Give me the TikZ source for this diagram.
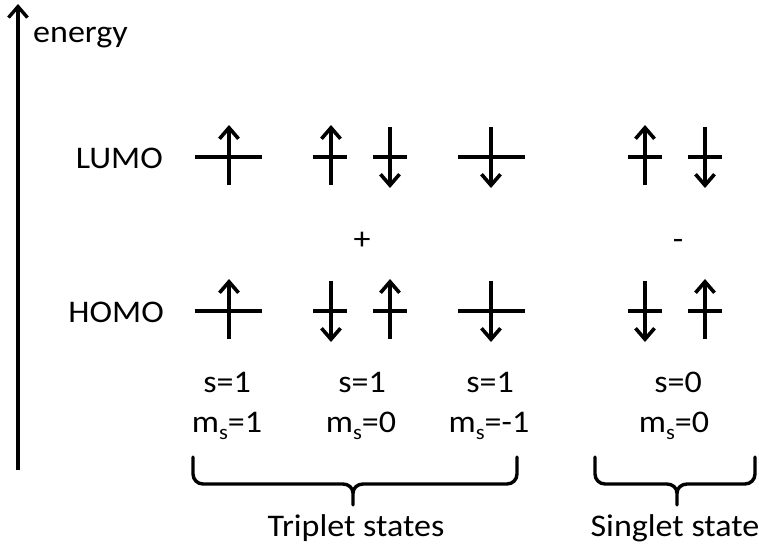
\documentclass[tikz,border=0pt]{standalone}
\usepackage{fontspec}
\setmainfont{Carlito}[FakeStretch=1.08]
\usetikzlibrary{arrows.meta}
\begin{document}
\begin{tikzpicture}[x=1pt,y=-1pt,
  orblevel/.style={line width=4.2pt},
  spin/.style={line width=3.4pt,-{Straight Barb[length=11pt,width=19pt,line width=3.6pt]}},
  axisarrow/.style={line width=3.2pt,-{Straight Barb[length=11pt,width=19pt,line width=3.4pt]}},
  bracepath/.style={line width=3.4pt,line cap=round,line join=round},
  lbl/.style={anchor=base,inner sep=0pt,font=\fontsize{31.5}{36}\selectfont}]
\useasboundingbox (0,0) rectangle (759,546);
% energy axis
\coordinate (axb) at (18,470);
\coordinate (axt) at (18,4);
\draw[axisarrow] (axb) -- (axt);
\node[lbl,anchor=base west] (energy) at (33,42) {energy};
% labels
\node[lbl,anchor=base east] (lumo) at (163,168) {LUMO};
\node[lbl,anchor=base east] (homo) at (164,322) {HOMO};
% LUMO levels
\draw[orblevel] (195,157) -- (262,157);
\draw[orblevel] (313,157) -- (347,157);
\draw[orblevel] (373,157) -- (407,157);
\draw[orblevel] (458,157) -- (525,157);
\draw[orblevel] (628,157) -- (662,157);
\draw[orblevel] (688,157) -- (722,157);
% HOMO levels
\draw[orblevel] (195,311) -- (262,311);
\draw[orblevel] (313,311) -- (347,311);
\draw[orblevel] (373,311) -- (407,311);
\draw[orblevel] (458,311) -- (525,311);
\draw[orblevel] (628,311) -- (662,311);
\draw[orblevel] (688,311) -- (722,311);
% LUMO spins
\draw[spin] (229,185) -- (229,125);
\draw[spin] (331,185) -- (331,125);
\draw[spin] (390,127) -- (390,188);
\draw[spin] (491,127) -- (491,188);
\draw[spin] (645,185) -- (645,125);
\draw[spin] (705,127) -- (705,188);
% HOMO spins
\draw[spin] (229,339) -- (229,279);
\draw[spin] (331,281) -- (331,342);
\draw[spin] (390,339) -- (390,279);
\draw[spin] (491,281) -- (491,342);
\draw[spin] (645,281) -- (645,342);
\draw[spin] (705,339) -- (705,279);
% combination signs
\node[lbl] (plus) at (362,249) {+};
\node[lbl] (minus) at (678,249) {-};
% quantum numbers
\node[lbl] (s1) at (227,392) {s=1};
\node[lbl] (s2) at (362,392) {s=1};
\node[lbl] (s3) at (490,392) {s=1};
\node[lbl] (s4) at (678,392) {s=0};
\newcommand{\msub}{m\raisebox{-7pt}{\fontsize{21}{21}\selectfont s}}
\node[lbl] (m1) at (227,432) {\msub=1};
\node[lbl] (m2) at (361,432) {\msub=0};
\node[lbl] (m3) at (489,432) {\msub=-1};
\node[lbl] (m4) at (674,432) {\msub=0};
% braces
\draw[bracepath] (193,457) -- (193,474) to[out=-90,in=180] (203,484) -- (343,484) to[out=0,in=90] (353,493) -- (353,505);
\draw[bracepath] (517,457) -- (517,474) to[out=-90,in=0] (507,484) -- (363,484) to[out=180,in=90] (353,493);
\draw[bracepath] (595,457) -- (595,474) to[out=-90,in=180] (605,484) -- (667,484) to[out=0,in=90] (677,493) -- (677,505);
\draw[bracepath] (755,457) -- (755,474) to[out=-90,in=0] (745,484) -- (687,484) to[out=180,in=90] (677,493);
\node[lbl] (trip) at (356,536) {Triplet states};
\node[lbl] (sing) at (675,536) {Singlet state};
\end{tikzpicture}
\end{document}
